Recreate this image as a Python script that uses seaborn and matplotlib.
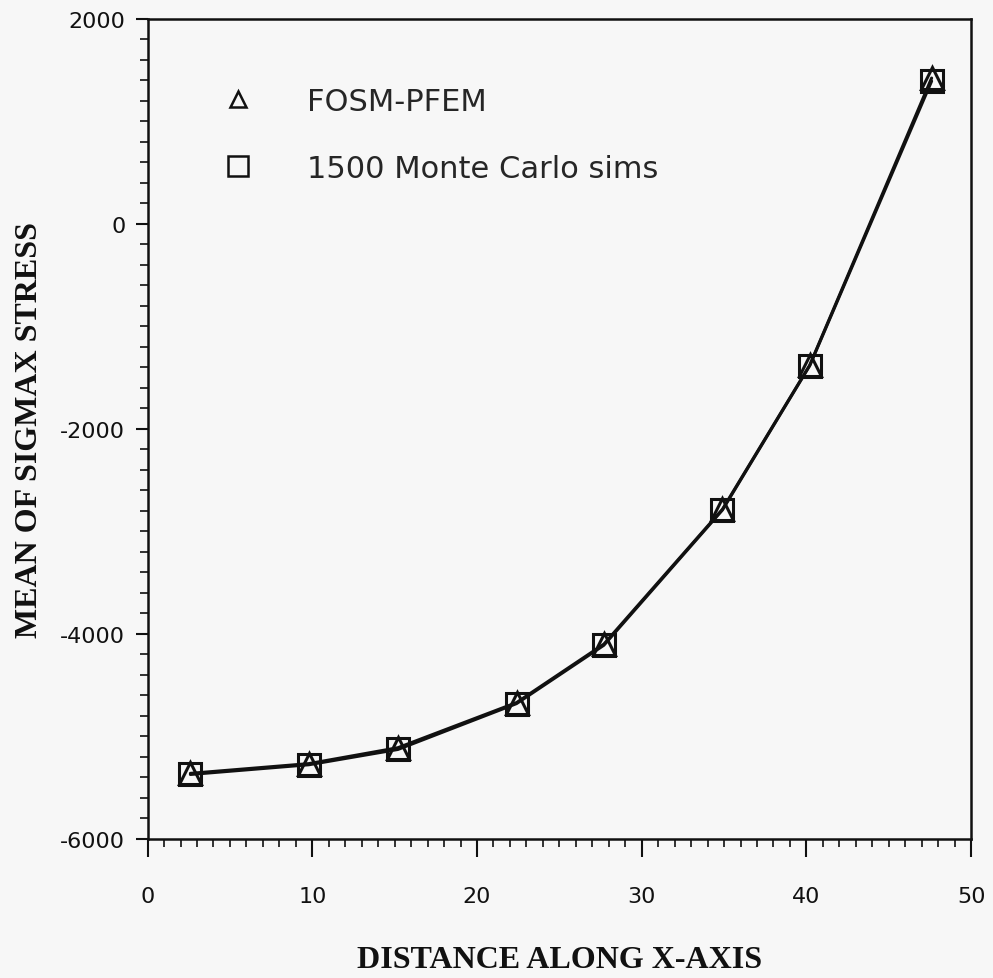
import numpy as np
import pandas as pd
import matplotlib.pyplot as plt
import seaborn as sns
from matplotlib.ticker import MultipleLocator
from matplotlib.lines import Line2D

# values
distance = [2.6, 9.8, 15.2, 22.4, 27.7, 34.9, 40.2, 47.6]
fosm_pfem = [-5360, -5265, -5110, -4670, -4100, -2785, -1380, 1420]
monte_carlo = [-5371, -5276, -5127, -4680, -4111, -2792, -1384, 1390]

xticks = [0, 10, 20, 30, 40, 50]
yticks = [-6000, -4000, -2000, 0, 2000]

df = pd.DataFrame({'x': distance + distance,
                   'y': fosm_pfem + monte_carlo,
                   'method': ['FOSM-PFEM'] * len(distance) + ['1500 Monte Carlo sims'] * len(distance)})

sns.set_style("ticks")
plt.rcParams['font.family'] = ['DejaVu Sans']
plt.rcParams['axes.unicode_minus'] = False

fig = plt.figure(figsize=(9.93, 9.79), dpi=100)
fig.patch.set_facecolor('#f7f7f7')
ax = fig.add_axes([0.1486, 0.142, 0.8294, 0.838])
ax.set_facecolor('#f7f7f7')

sns.lineplot(data=df, x='x', y='y', hue='method', style='method',
             palette=['#111111', '#111111'], markers=['^', 's'], dashes=False,
             linewidth=2.2, markersize=16, markeredgewidth=2.2,
             markerfacecolor='none', markeredgecolor='#111111', ax=ax, legend=False)

# legend drawn from handles
handles = [Line2D([], [], ls='none', marker='^', ms=12, mfc='none', mec='#111111', mew=1.8),
           Line2D([], [], ls='none', marker='s', ms=15, mfc='none', mec='#111111', mew=1.8)]
ax.legend(handles, ['FOSM-PFEM', '1500 Monte Carlo sims'], frameon=False,
          loc='upper left', bbox_to_anchor=(0.058, 0.932), fontsize=22,
          handletextpad=1.25, labelspacing=1.25, borderaxespad=0)

ax.set_xlim(0, 50)
ax.set_ylim(-6000, 2000)
ax.set_xticks(xticks)
ax.set_yticks(yticks)
ax.xaxis.set_minor_locator(MultipleLocator(1))
ax.yaxis.set_minor_locator(MultipleLocator(200))
ax.tick_params(axis='both', which='major', direction='out', length=9, width=1.5,
               labelsize=16, colors='#111111')
ax.tick_params(axis='x', which='major', length=13, pad=21)
ax.tick_params(axis='y', which='major', pad=7)
ax.tick_params(axis='both', which='minor', direction='out', length=6, width=1.2, colors='#111111')

for s in ax.spines.values():
    s.set_visible(True)
    s.set_linewidth(1.8)
    s.set_color('#111111')

ax.set_xlabel('DISTANCE ALONG X-AXIS', fontsize=23, fontweight='bold',
              family='Liberation Serif', labelpad=28, color='#111111')
ax.set_ylabel('MEAN OF SIGMAX STRESS', fontsize=23, fontweight='bold',
              family='Liberation Serif', labelpad=12, color='#111111')

fig.savefig('out.png', dpi=100, facecolor=fig.get_facecolor())
